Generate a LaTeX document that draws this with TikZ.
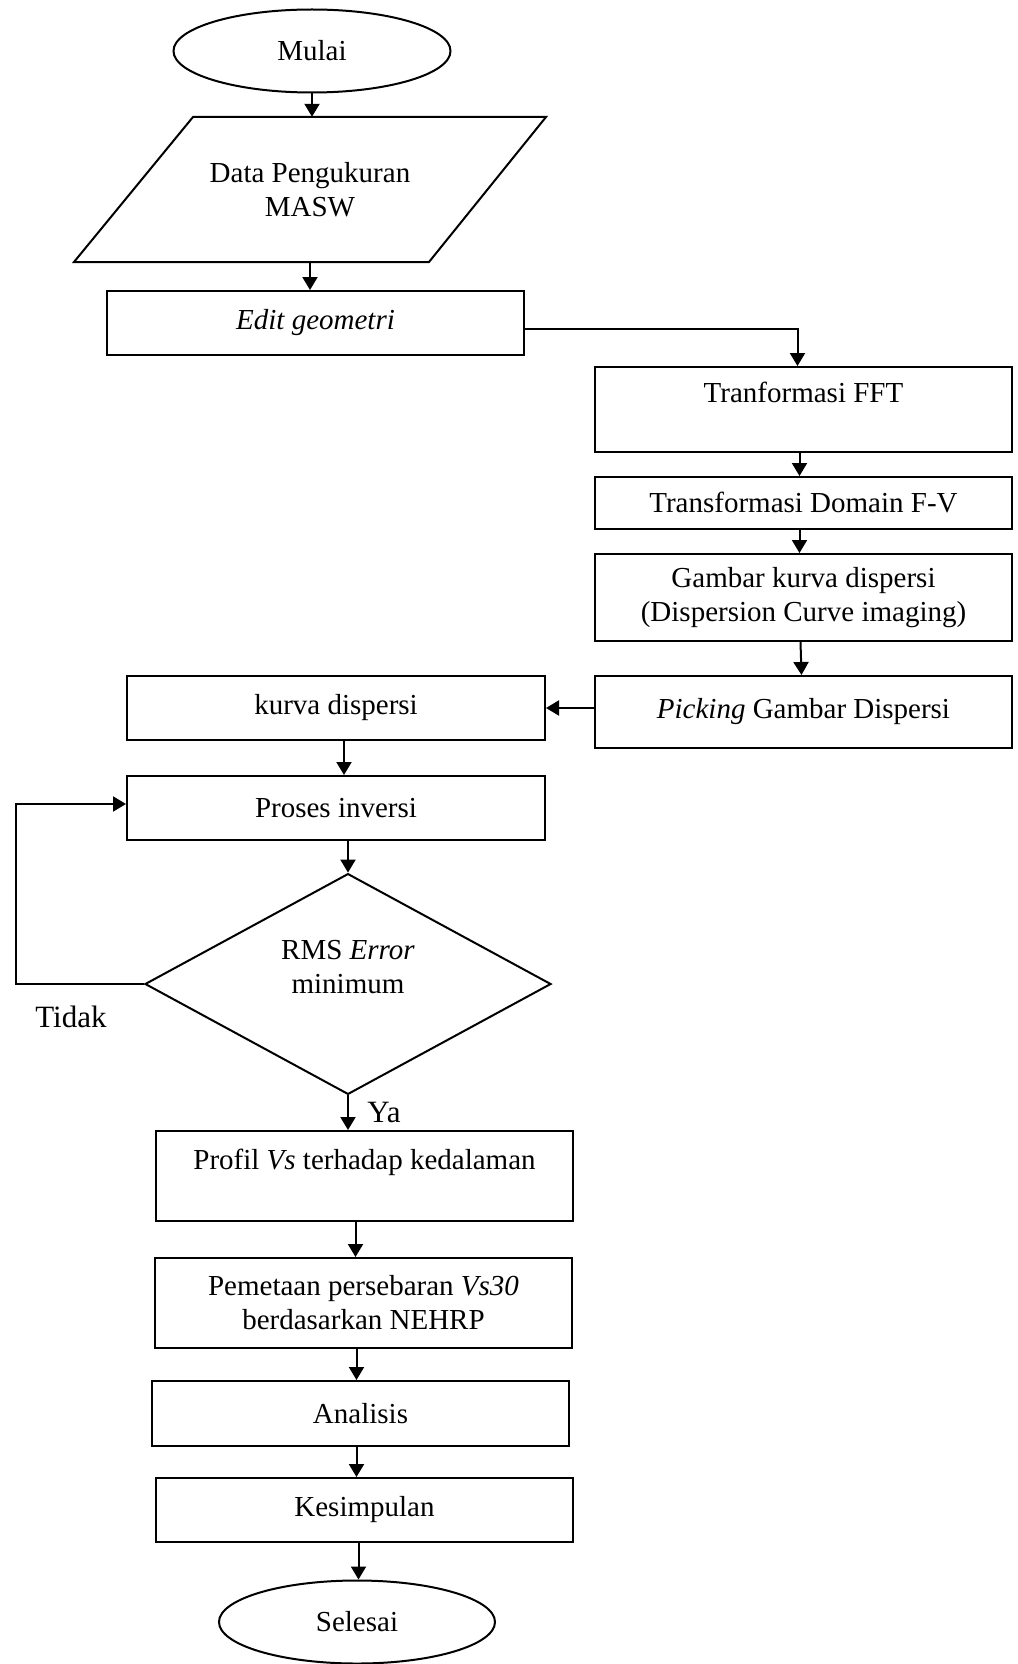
\documentclass[tikz,border=0pt]{standalone}
\usepackage{fontspec}
\setmainfont{Liberation Serif}
\usetikzlibrary{arrows.meta,shapes.geometric,calc}
\begin{document}
\begin{tikzpicture}[x=1pt,y=-1pt,
  every node/.style={font=\fontsize{29}{34}\selectfont},
  box/.style={draw, line width=2pt, minimum width=417pt, inner sep=0pt, align=center},
  term/.style={draw, ellipse, line width=2pt, minimum width=277pt, minimum height=83pt, inner sep=0pt},
  arr/.style={line width=2pt, -{Triangle[length=13pt,width=15pt]}},
  lbl/.style={font=\fontsize{31}{36}\selectfont}]
\useasboundingbox (0,0) rectangle (1017,1664);

\node[term] (mulai) at (312,51) {Mulai};
\node[minimum width=353pt, minimum height=145pt, inner sep=0pt, align=center] (data) at (310,189.5) {Data Pengukuran\\MASW};
\draw[line width=2pt, line join=miter] (193,117) -- (546,117) -- (429,262) -- (74,262) -- cycle;
\node[box, minimum height=64pt] (edit) at (315.5,323) {\itshape Edit geometri};
\node[box, minimum height=85pt] (fft) at (803.5,409.5) {Tranformasi FFT\\\mbox{}};
\node[box, minimum height=52pt] (fv) at (803.5,503) {Transformasi Domain F-V};
\node[box, minimum height=87pt] (gambar) at (803.5,597.5) {Gambar kurva dispersi\\(Dispersion Curve imaging)};
\node[box, minimum height=72pt] (pick) at (803.5,712) {\textit{Picking} Gambar Dispersi};
\node[box, minimum width=418pt, minimum height=64pt] (kurva) at (336,708) {kurva dispersi};
\node[box, minimum width=418pt, minimum height=64pt] (proses) at (336,808) {Proses inversi};
\node[draw, diamond, line width=2pt, minimum width=406pt, minimum height=216pt, inner sep=0pt, align=center] (dec) at (348,984) {RMS \textit{Error}\\minimum\\\mbox{}};
\node[box, minimum height=90pt] (profil) at (364.5,1176) {Profil \textit{Vs} terhadap kedalaman\\\mbox{}};
\node[box, minimum height=90pt] (peta) at (363.5,1303) {Pemetaan persebaran \textit{Vs30}\\berdasarkan NEHRP};
\node[box, minimum height=65pt] (anal) at (360.5,1413.5) {Analisis};
\node[box, minimum height=64pt] (kes) at (364.5,1510) {Kesimpulan};
\node[term, minimum width=276pt] (selesai) at (357,1622) {Selesai};

\node[lbl] (tidak) at (71,1017) {Tidak};
\node[lbl] (ya) at (384,1112) {Ya};

\draw[arr] (mulai.south) -- (mulai.south |- data.north);
\draw[arr] (data.south) -- (data.south |- edit.north);
\draw[arr] ([yshift=-6pt]edit.east) -| ([xshift=-6pt]fft.north);
\draw[arr] ([xshift=-4pt]fft.south) -- ([xshift=-4pt]fv.north);
\draw[arr] ([xshift=-4pt]fv.south) -- ([xshift=-4pt]gambar.north);
\draw[arr] ([xshift=-3pt]gambar.south) -- ([xshift=-2pt]pick.north);
\draw[arr] (pick.west |- kurva.east) -- (kurva.east);
\draw[arr] ([xshift=8pt]kurva.south) -- ([xshift=8pt]proses.north);
\draw[arr] (proses.south -| dec.north) -- (dec.north);
\coordinate (lp) at (15.5,804);
\draw[arr] (dec.west) -| (lp) -- (lp -| proses.west);
\draw[arr] (dec.south) -- (dec.south |- profil.north);
\draw[arr] ([xshift=-9pt]profil.south) -- ([xshift=-9pt]profil.south |- peta.north);
\draw[arr] ([xshift=-7pt]peta.south) -- ([xshift=-7pt]peta.south |- anal.north);
\draw[arr] ([xshift=-4pt]anal.south) -- ([xshift=-4pt]anal.south |- kes.north);
\draw[arr] ([xshift=-6pt]kes.south) -- ([xshift=-6pt]kes.south |- selesai.north);
\end{tikzpicture}
\end{document}
